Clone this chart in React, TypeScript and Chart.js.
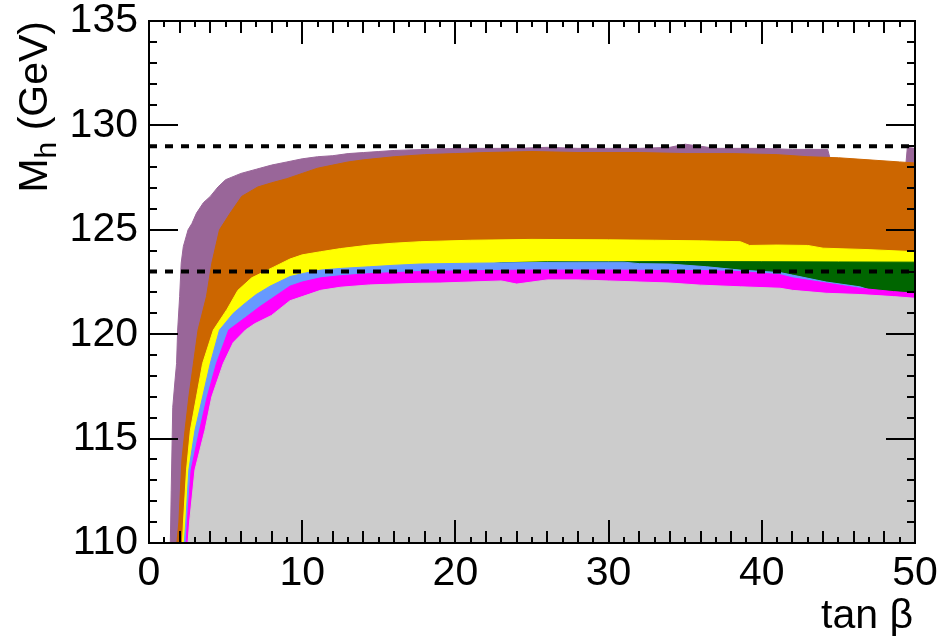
import React, { useEffect, useRef } from "react";
import { Chart, registerables } from "chart.js";

Chart.register(...registerables);

const FONT = "'Liberation Sans', Arial, Helvetica, sans-serif";

// Upper boundary of each scanned region: tan(beta) and M_h (GeV)
const purpleTanBeta = [1.38, 1.45, 1.55, 1.7, 1.8, 1.87, 2.0, 2.1, 2.24, 2.55, 2.8, 3.1, 3.55, 4.0, 4.5, 5.0, 6.0, 7.0, 8.0, 9.0, 10, 11, 12, 13, 14, 15, 16, 18, 20, 22, 24, 26, 28, 30, 32, 34, 35, 36, 37, 38, 40, 42, 44.3, 44.5, 46, 48, 49.4, 49.5, 50];
const purpleMh = [109.5, 112.5, 116.5, 117.8, 118.6, 120.2, 121.8, 123.4, 124.2, 125.0, 125.3, 125.8, 126.3, 126.6, 127.05, 127.4, 127.7, 127.9, 128.1, 128.25, 128.4, 128.5, 128.55, 128.65, 128.7, 128.75, 128.8, 128.85, 128.9, 128.9, 128.9, 128.95, 128.9, 128.9, 128.9, 128.95, 129.1, 129.0, 128.9, 128.9, 128.9, 128.85, 128.85, 128.3, 128.25, 128.15, 128.1, 128.95, 128.9];

const orangeTanBeta = [1.75, 1.95, 2.05, 2.15, 2.35, 2.6, 2.9, 3.2, 3.75, 4.1, 4.6, 5.3, 6.05, 7.1, 8, 9, 10, 11, 12, 13, 14, 16, 18, 20, 22, 25, 28, 32, 35, 38, 41, 43, 45, 47, 49, 50];
const orangeMh = [109.5, 111, 112.5, 114, 115.4, 117, 118.6, 120.2, 121.8, 123.4, 125.0, 125.8, 126.6, 127.05, 127.25, 127.45, 127.7, 127.95, 128.1, 128.25, 128.35, 128.5, 128.6, 128.65, 128.7, 128.75, 128.7, 128.7, 128.65, 128.65, 128.6, 128.5, 128.45, 128.35, 128.25, 128.2];

const yellowTanBeta = [2.15, 2.25, 2.45, 2.7, 3.1, 3.5, 4.2, 5.1, 5.8, 6.7, 8.1, 9.2, 10, 11.2, 12.5, 14.4, 16, 17.7, 21, 25, 30, 33, 36, 38.6, 39.2, 41, 43, 44, 47, 50];
const yellowMh = [109.5, 111, 113.5, 115.4, 117, 118.6, 120.2, 121.2, 122.1, 122.7, 123.2, 123.6, 123.8, 123.95, 124.1, 124.27, 124.36, 124.43, 124.5, 124.54, 124.52, 124.5, 124.47, 124.43, 124.25, 124.27, 124.25, 124.12, 124.05, 123.95];

const greenTanBeta = [20, 23, 26, 30, 35, 40, 45, 50];
const greenMh = [123.2, 123.42, 123.47, 123.47, 123.48, 123.47, 123.46, 123.45];

const blueTanBeta = [2.25, 2.4, 2.6, 3.0, 3.5, 4.0, 4.6, 5.5, 6.3, 7.0, 7.9, 9.2, 10, 11.2, 12.5, 14.4, 16, 17.7, 21, 25, 28, 31, 32, 34, 36.4, 38.6, 41.2, 42, 44.2, 46.4, 48, 50];
const blueMh = [109.5, 111, 113.5, 115.4, 117, 118.6, 120.2, 121.0, 121.5, 121.9, 122.3, 122.76, 122.9, 123.07, 123.15, 123.23, 123.3, 123.36, 123.4, 123.43, 123.45, 123.45, 123.38, 123.36, 123.23, 123.07, 122.95, 122.83, 122.5, 122.27, 121.9, 121.8];

const magentaTanBeta = [2.38, 2.5, 2.75, 3.3, 3.8, 4.4, 5.2, 6.3, 7.2, 8, 9.2, 10, 11.2, 12.5, 14.4, 17.7, 21, 25, 30, 34, 36, 38.6, 41.2, 42, 44.2, 46.4, 48.6, 50];
const magentaMh = [109.5, 111, 113.5, 115.4, 117, 118.6, 120.2, 120.8, 121.3, 121.7, 122.3, 122.5, 122.7, 122.8, 122.9, 123.0, 123.04, 123.07, 123.07, 123.05, 123.05, 123.0, 122.85, 122.7, 122.45, 122.2, 122.04, 121.96];

const greyTanBeta = [2.5, 2.65, 3.0, 3.65, 4.1, 4.85, 5.5, 6.3, 6.9, 8, 9.2, 10, 11.2, 12.5, 14.4, 16, 17.7, 19, 21, 23, 24, 25, 26, 28, 30, 32, 34, 36, 38.6, 41.2, 42, 44.2, 46.4, 48.6, 50];
const greyMh = [109.5, 111, 113.5, 115.4, 117, 118.6, 119.6, 120.2, 120.5, 120.9, 121.6, 121.8, 122.1, 122.25, 122.36, 122.4, 122.44, 122.45, 122.5, 122.55, 122.4, 122.5, 122.6, 122.6, 122.55, 122.5, 122.45, 122.35, 122.27, 122.2, 122.1, 121.96, 121.9, 121.8, 121.72];

// Horizontal reference masses (GeV)
const referenceMasses = [129, 123];

const X_MIN = 0, X_MAX = 50, Y_MIN = 110, Y_MAX = 135;

const toPoints = (xs: number[], ys: number[]) => xs.map((x, i) => ({ x, y: ys[i] }));

const region = (label: string, xs: number[], ys: number[], color: string) => ({
  label,
  data: toPoints(xs, ys),
  backgroundColor: color,
  borderColor: color,
  borderWidth: 1,
  pointRadius: 0,
  tension: 0,
  fill: "start",
});

// Frame plus inward-pointing ticks on all four sides
const framePlugin = {
  id: "frameTicks",
  afterDatasetsDraw(chart: any) {
    const { ctx, chartArea: a, scales } = chart;
    const xs = scales.x, ys = scales.y;
    ctx.save();
    ctx.strokeStyle = "#000";
    ctx.lineWidth = 2;
    ctx.beginPath();
    for (let v = X_MIN; v <= X_MAX; v++) {
      const len = v % 10 === 0 ? 23 : v % 2 === 0 ? 12 : 6;
      const px = Math.round(xs.getPixelForValue(v));
      ctx.moveTo(px, a.bottom);
      ctx.lineTo(px, a.bottom - len);
      ctx.moveTo(px, a.top);
      ctx.lineTo(px, a.top + len);
    }
    for (let v = Y_MIN; v <= Y_MAX; v++) {
      const len = v % 5 === 0 ? 29 : 8;
      const py = Math.round(ys.getPixelForValue(v));
      ctx.moveTo(a.left, py);
      ctx.lineTo(a.left + len, py);
      ctx.moveTo(a.right, py);
      ctx.lineTo(a.right - len, py);
    }
    ctx.stroke();
    ctx.strokeRect(a.left, a.top, a.right - a.left, a.bottom - a.top);
    ctx.restore();
  },
};

// Axis titles: "tan β" and "M_h (GeV)" with subscript
const titlePlugin = {
  id: "axisTitles",
  afterDraw(chart: any) {
    const { ctx, chartArea: a } = chart;
    ctx.save();
    ctx.fillStyle = "#000";
    ctx.textBaseline = "alphabetic";
    ctx.font = `41px ${FONT}`;
    ctx.textAlign = "right";
    ctx.fillText("tan β", a.right - 2, 628);

    ctx.translate(47, a.top);
    ctx.rotate(-Math.PI / 2);
    const big = `41px ${FONT}`;
    const small = `30px ${FONT}`;
    ctx.font = big;
    const wM = ctx.measureText("M").width;
    const wRest = ctx.measureText(" (GeV)").width;
    ctx.font = small;
    const wh = ctx.measureText("h").width;
    const x0 = -(wM + wh + wRest);
    ctx.textAlign = "left";
    ctx.font = big;
    ctx.fillText("M", x0, 0);
    ctx.font = small;
    ctx.fillText("h", x0 + wM, 9);
    ctx.font = big;
    ctx.fillText(" (GeV)", x0 + wM + wh, 0);
    ctx.restore();
  },
};

// Keep the plot frame where the layout padding puts it
const noScalePadding = (s: any) => {
  s.paddingLeft = 0;
  s.paddingRight = 0;
  s.paddingTop = 0;
  s.paddingBottom = 0;
};

export default function App() {
  const canvasRef = useRef<HTMLCanvasElement | null>(null);

  useEffect(() => {
    const canvas = canvasRef.current;
    if (!canvas) return;

    const dashed = referenceMasses.map((m) => ({
      label: `M_h = ${m}`,
      data: [
        { x: X_MIN, y: m },
        { x: X_MAX, y: m },
      ],
      borderColor: "#000",
      borderWidth: 4,
      borderDash: [8, 8],
      pointRadius: 0,
      fill: false,
    }));

    // Earlier datasets are painted on top of later ones
    const datasets: any[] = [
      ...dashed,
      region("grey", greyTanBeta, greyMh, "#cccccc"),
      region("magenta", magentaTanBeta, magentaMh, "#ff00ff"),
      region("blue", blueTanBeta, blueMh, "#6699ff"),
      region("green", greenTanBeta, greenMh, "#006600"),
      region("yellow", yellowTanBeta, yellowMh, "#ffff00"),
      region("orange", orangeTanBeta, orangeMh, "#cc6600"),
      region("purple", purpleTanBeta, purpleMh, "#996699"),
    ];

    const tickFont = { family: FONT, size: 41, lineHeight: 1 };

    const chart = new Chart(canvas, {
      type: "line",
      data: { datasets },
      options: {
        responsive: false,
        animation: false,
        parsing: false,
        normalized: true,
        layout: { padding: { top: 21, right: 27, left: 0, bottom: 0 } },
        plugins: {
          legend: { display: false },
          tooltip: { enabled: false },
          filler: { propagate: false },
        },
        scales: {
          x: {
            type: "linear",
            min: X_MIN,
            max: X_MAX,
            grid: { display: false, drawTicks: false },
            border: { display: false },
            ticks: {
              stepSize: 10,
              color: "#000",
              font: tickFont,
              padding: 10,
              maxRotation: 0,
              autoSkip: false,
            },
            afterFit: (s: any) => {
              s.height = 100;
              noScalePadding(s);
            },
          },
          y: {
            type: "linear",
            min: Y_MIN,
            max: Y_MAX,
            grid: { display: false, drawTicks: false },
            border: { display: false },
            ticks: {
              stepSize: 5,
              color: "#000",
              font: tickFont,
              padding: 11,
            },
            afterFit: (s: any) => {
              s.width = 149;
              noScalePadding(s);
            },
          },
        },
      } as any,
      plugins: [framePlugin, titlePlugin],
    });

    return () => chart.destroy();
  }, []);

  return (
    <div style={{ position: "fixed", left: 0, top: 0, width: 942, height: 643, background: "#fff" }}>
      <canvas ref={canvasRef} width={942} height={643} style={{ display: "block" }} />
    </div>
  );
}
